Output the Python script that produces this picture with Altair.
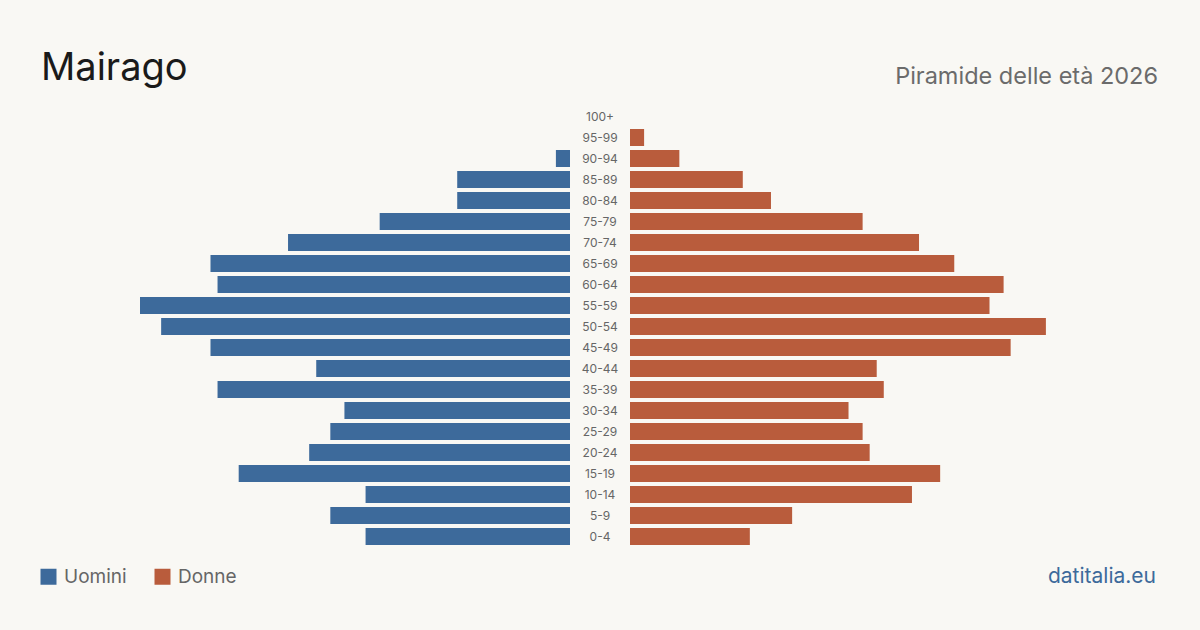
import altair as alt
import pandas as pd

# Age groups from youngest to oldest
ages = ["0-4", "5-9", "10-14", "15-19", "20-24", "25-29", "30-34", "35-39",
        "40-44", "45-49", "50-54", "55-59", "60-64", "65-69", "70-74",
        "75-79", "80-84", "85-89", "90-94", "95-99", "100+"]
men = [29, 34, 29, 47, 37, 34, 32, 50, 36, 51, 58, 61, 50, 51, 40, 27, 16, 16, 2, 0, 0]
women = [17, 23, 40, 44, 34, 33, 31, 36, 35, 54, 59, 51, 53, 46, 41, 33, 20, 16, 7, 2, 0]

BLUE = "#3d6a9b"
RED = "#b95c3c"
BG = "#f9f8f4"
FONT = "Inter"

order = list(reversed(ages))  # oldest on top
xmax = max(max(men), max(women))

long_df = pd.DataFrame(
    [{"age": a, "sex": "Uomini", "value": v} for a, v in zip(ages, men)]
    + [{"age": a, "sex": "Donne", "value": v} for a, v in zip(ages, women)]
)
labels_df = pd.DataFrame({"age": ages})

yscale = alt.Scale(domain=order, paddingInner=0.19, paddingOuter=0.095)
color = alt.Color(
    "sex:N",
    scale=alt.Scale(domain=["Uomini", "Donne"], range=[BLUE, RED]),
    legend=alt.Legend(
        title=None, orient="none", direction="horizontal",
        legendX=-101, legendY=461,
        symbolType="square", symbolSize=256, symbolStrokeWidth=0,
        symbolOpacity=1, labelFontSize=19, labelColor="#666666",
        labelFont=FONT, labelOffset=6, columnPadding=26,
    ),
)

PW = 430   # width of each half of the pyramid
PH = 441   # height of the pyramid
ML, MT = 140, 106   # space left of and above the pyramid
CW, CH = 1200, 630  # whole canvas

# Full-canvas backdrop that also fixes the chart's outer bounds
backdrop = alt.Chart(pd.DataFrame({"k": [0]})).mark_rect(fill=BG).encode(
    x=alt.value(-ML), x2=alt.value(CW - ML),
    y=alt.value(-MT), y2=alt.value(CH - MT),
)

left_bars = alt.Chart(long_df).transform_filter(
    alt.datum.sex == "Uomini"
).mark_bar().encode(
    x=alt.X("value:Q", scale=alt.Scale(domain=[0, xmax], reverse=True), axis=None),
    y=alt.Y("age:N", scale=yscale, axis=None),
    color=color,
)

title_mark = alt.Chart(pd.DataFrame({"t": ["Mairago"]})).mark_text(
    align="left", baseline="alphabetic", fontSize=38, font=FONT, color="#1a1a1a"
).encode(text="t:N", x=alt.value(41 - ML), y=alt.value(80 - MT))

left = alt.layer(backdrop, left_bars, title_mark).properties(width=PW, height=PH)

middle = alt.Chart(labels_df).mark_text(
    align="center", baseline="middle", fontSize=12, font=FONT, color="#666666"
).encode(
    y=alt.Y("age:N", scale=yscale, axis=None),
    x=alt.value(30),
    text="age:N",
).properties(width=60, height=PH)

right_bars = alt.Chart(long_df).transform_filter(
    alt.datum.sex == "Donne"
).mark_bar().encode(
    x=alt.X("value:Q", scale=alt.Scale(domain=[0, xmax]), axis=None),
    y=alt.Y("age:N", scale=yscale, axis=None),
    color=color,
)

RX = ML + PW + 60  # left edge of the right half
subtitle_mark = alt.Chart(pd.DataFrame({"t": ["Piramide delle età 2026"]})).mark_text(
    align="right", baseline="alphabetic", fontSize=23.5, font=FONT, color="#6b6b6b"
).encode(text="t:N", x=alt.value(1158 - RX), y=alt.value(84 - MT))

source_mark = alt.Chart(pd.DataFrame({"t": ["datitalia.eu"]})).mark_text(
    align="right", baseline="alphabetic", fontSize=21, font=FONT, color=BLUE
).encode(text="t:N", x=alt.value(1156 - RX), y=alt.value(583 - MT))

right = alt.layer(right_bars, subtitle_mark, source_mark).properties(width=PW, height=PH)

chart = alt.hconcat(left, middle, right, spacing=0, bounds="flush").properties(
    background=BG,
    padding=0,
).configure(font=FONT).configure_view(stroke=None)

chart.save("out.html", embed_options={"renderer": "svg", "actions": False})
